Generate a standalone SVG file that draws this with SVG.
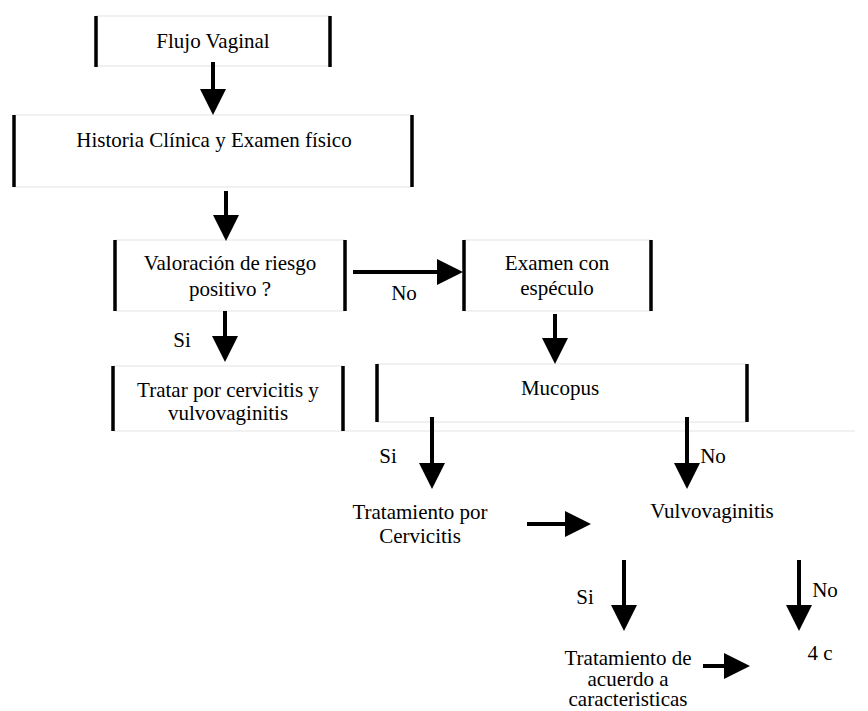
<svg xmlns="http://www.w3.org/2000/svg" width="868" height="711" viewBox="0 0 868 711">
<defs>
<style>
text{font-family:'Liberation Serif','Tinos','DejaVu Serif',serif;font-size:21px;fill:#000;text-anchor:middle}
.edge{stroke:#e4e4e4;stroke-width:1.2;fill:none}
.bar{stroke:#000;stroke-width:3.5;fill:none}
.conn{stroke:#000;stroke-width:4;fill:none;marker-end:url(#ah)}
</style>
<marker id="ah" markerUnits="userSpaceOnUse" markerWidth="27" markerHeight="27" refX="0" refY="13" orient="auto" viewBox="0 0 27 27">
<path d="M0,0 L26,13 L0,26 Z" fill="#000"/>
</marker>
</defs>
<rect width="868" height="711" fill="#fff"/>
<g font-family="Liberation Serif, serif">
<g id="n-flujo">
<line class="edge" x1="96" y1="16" x2="330" y2="16"/>
<line class="edge" x1="96" y1="66" x2="330" y2="66"/>
<line class="bar" x1="96" y1="16" x2="96" y2="67"/>
<line class="bar" x1="330" y1="16" x2="330" y2="67"/>
<text x="213" y="48">Flujo Vaginal</text>
</g>

<g id="n-historia">
<line class="edge" x1="13" y1="115" x2="412" y2="115"/>
<line class="edge" x1="13" y1="187" x2="412" y2="187"/>
<line class="bar" x1="14" y1="115" x2="14" y2="187"/>
<line class="bar" x1="412" y1="115" x2="412" y2="187"/>
<text x="214" y="147">Historia Clínica y Examen físico</text>
</g>

<g id="n-valoracion">
<line class="edge" x1="115" y1="240" x2="345" y2="240"/>
<line class="edge" x1="115" y1="311" x2="345" y2="311"/>
<line class="bar" x1="115" y1="240" x2="115" y2="311"/>
<line class="bar" x1="345" y1="240" x2="345" y2="311"/>
<text x="230" y="270">Valoración de riesgo</text>
<text x="230" y="296">positivo ?</text>
</g>

<g id="n-examen">
<line class="edge" x1="464" y1="240" x2="651" y2="240"/>
<line class="edge" x1="464" y1="311" x2="651" y2="311"/>
<line class="bar" x1="464" y1="240" x2="464" y2="311"/>
<line class="bar" x1="651" y1="240" x2="651" y2="311"/>
<text x="557" y="270">Examen con</text>
<text x="557" y="295">espéculo</text>
</g>

<g id="n-tratar">
<line class="edge" x1="113" y1="366" x2="343" y2="366"/>
<line class="edge" x1="113" y1="431" x2="855" y2="431"/>
<line class="bar" x1="113" y1="366" x2="113" y2="431"/>
<line class="bar" x1="343" y1="366" x2="343" y2="431"/>
<text x="228" y="397">Tratar por cervicitis y</text>
<text x="228" y="420">vulvovaginitis</text>
</g>

<g id="n-mucopus">
<line class="edge" x1="377" y1="364" x2="747" y2="364"/>
<line class="edge" x1="377" y1="422" x2="747" y2="422"/>
<line class="bar" x1="377" y1="364" x2="377" y2="422"/>
<line class="bar" x1="747" y1="364" x2="747" y2="422"/>
<text x="560" y="395">Mucopus</text>
</g>

<g id="n-tratcerv">
<text x="420" y="519">Tratamiento por</text>
<text x="420" y="543">Cervicitis</text>
</g>

<g id="n-vulvo">
<text x="712" y="518">Vulvovaginitis</text>
</g>

<g id="n-tratacuerdo">
<text x="628" y="665">Tratamiento de</text>
<text x="628" y="686">acuerdo a</text>
<text x="628" y="706">caracteristicas</text>
</g>

<g id="n-4c">
<text x="820" y="660">4 c</text>
</g>

<g id="connectors">
<line class="conn" x1="213" y1="62" x2="213" y2="89"/>
<line class="conn" x1="226" y1="191" x2="226" y2="215"/>
<line class="conn" x1="225" y1="311" x2="225" y2="336"/>
<line class="conn" x1="555" y1="314" x2="555" y2="338"/>
<line class="conn" x1="353" y1="272" x2="437" y2="272"/>
<line class="conn" x1="432" y1="417" x2="432" y2="463"/>
<line class="conn" x1="687" y1="417" x2="687" y2="463"/>
<line class="conn" x1="527" y1="524" x2="565" y2="524"/>
<line class="conn" x1="624" y1="560" x2="624" y2="605"/>
<line class="conn" x1="799" y1="560" x2="799" y2="605"/>
<line class="conn" x1="703" y1="666" x2="724" y2="666"/>
<text x="404" y="300">No</text>
<text x="182" y="347">Si</text>
<text x="388" y="463">Si</text>
<text x="713" y="463">No</text>
<text x="585" y="604">Si</text>
<text x="825" y="597">No</text>
</g>
</g>
</svg>
